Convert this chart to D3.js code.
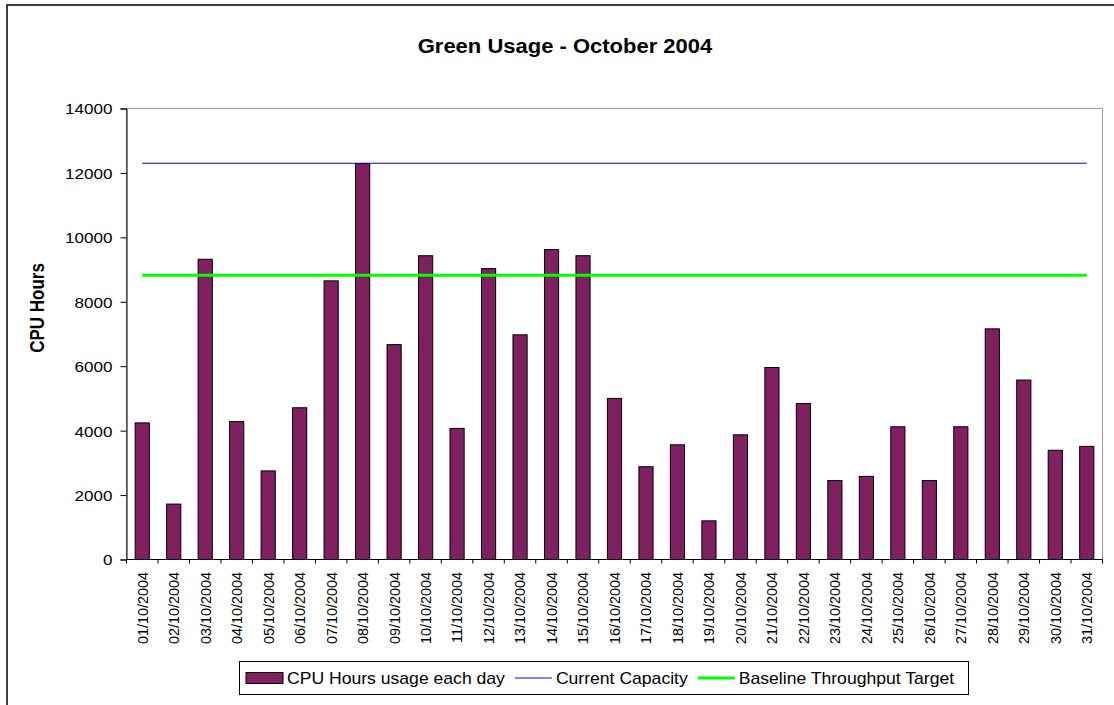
<!DOCTYPE html>
<html>
<head>
<meta charset="utf-8">
<script src="https://cdn.jsdelivr.net/npm/d3@7"></script>
<style>
  html, body { margin: 0; padding: 0; background: #fff; }
  svg { display: block; }
  text { font-family: "Liberation Sans", Arial, sans-serif; fill: #000; }
</style>
</head>
<body>
<svg id="chart" width="1114" height="705"></svg>
<script>
// ---- data ----
const dates = ["01/10/2004","02/10/2004","03/10/2004","04/10/2004","05/10/2004","06/10/2004","07/10/2004","08/10/2004","09/10/2004","10/10/2004","11/10/2004","12/10/2004","13/10/2004","14/10/2004","15/10/2004","16/10/2004","17/10/2004","18/10/2004","19/10/2004","20/10/2004","21/10/2004","22/10/2004","23/10/2004","24/10/2004","25/10/2004","26/10/2004","27/10/2004","28/10/2004","29/10/2004","30/10/2004","31/10/2004"];
const usage = [4240, 1720, 9320, 4280, 2750, 4710, 8650, 12290, 6670, 9430, 4070, 9030, 6975, 9620, 9430, 5000, 2880, 3560, 1200, 3870, 5960, 4840, 2450, 2580, 4120, 2450, 4120, 7160, 5570, 3390, 3510];
const capacity = 12300;
const baseline = 8820;
const yTicks = [0, 2000, 4000, 6000, 8000, 10000, 12000, 14000];
const title = "Green Usage - October 2004";
const yTitle = "CPU Hours";
const legendLabels = ["CPU Hours usage each day", "Current Capacity", "Baseline Throughput Target"];

(function () {
// ---- layout ----
const svg = d3.select("#chart");
const pLeft = 126.5, pRight = 1102.5, pTop = 108.5, pBottom = 559.5;
const barColor = "#802060";
const sx = 1.1; // horizontal text stretch

// outer frame (only left/top edges visible)
svg.append("rect").attr("x", 7).attr("y", 5).attr("width", 1130).attr("height", 720)
  .attr("fill", "#fff").attr("stroke", "#000").attr("stroke-width", 1.5);

const x = d3.scaleBand().domain(dates).range([pLeft, pRight]).paddingInner(0.55).paddingOuter(0.275);
const y = d3.scaleLinear().domain([0, 14000]).range([pBottom, pTop]);

// plot area frame (gray top/right)
svg.append("rect").attr("x", pLeft).attr("y", pTop).attr("width", pRight - pLeft).attr("height", pBottom - pTop)
  .attr("fill", "#fff").attr("stroke", "#999").attr("stroke-width", 1);

// title
svg.append("text").attr("transform", `translate(565,53) scale(${sx},1)`)
  .attr("text-anchor", "middle").style("font-size", "20px").style("font-weight", "bold").text(title);

// y axis title
svg.append("text").attr("transform", `translate(44,308) rotate(-90) scale(1,1.22)`)
  .attr("text-anchor", "middle").style("font-size", "17px").style("font-weight", "bold").text(yTitle);

// bars
svg.append("g").selectAll("rect").data(usage).join("rect")
  .attr("x", (d, i) => x(dates[i]))
  .attr("y", d => y(d))
  .attr("width", x.bandwidth())
  .attr("height", d => y(0) - y(d))
  .attr("fill", barColor).attr("stroke", "#000").attr("stroke-width", 1);

// reference lines
const xFirst = x(dates[0]) + x.bandwidth() / 2;
const xLast = x(dates[dates.length - 1]) + x.bandwidth() / 2;
svg.append("line").attr("x1", xFirst).attr("x2", xLast).attr("y1", y(capacity)).attr("y2", y(capacity))
  .attr("stroke", "#0000ff").attr("stroke-width", 1);
svg.append("line").attr("x1", xFirst).attr("x2", xLast).attr("y1", y(baseline)).attr("y2", y(baseline))
  .attr("stroke", "#00ff00").attr("stroke-width", 3);

// y axis
const yAxis = svg.append("g").attr("transform", `translate(${pLeft},0)`)
  .call(d3.axisLeft(y).tickValues(yTicks).tickSize(6).tickPadding(0).tickFormat(d3.format("d")));
yAxis.select(".domain").attr("stroke", "#000");
yAxis.selectAll(".tick line").attr("stroke", "#000");
yAxis.selectAll(".tick text").remove();
yAxis.selectAll(".tick").append("text")
  .attr("transform", `translate(-14,0) scale(${sx},1)`)
  .attr("text-anchor", "end").attr("dy", "0.35em")
  .style("font-size", "15.5px").text(d => d);

// x axis: ticks at category boundaries
const step = x.step();
const boundaries = dates.map(d => x(d) - step * x.paddingInner() / 2).concat([pRight]);
const xg = svg.append("g");
xg.append("line").attr("x1", pLeft).attr("x2", pRight).attr("y1", pBottom).attr("y2", pBottom).attr("stroke", "#000");
xg.selectAll("line.tk").data(boundaries).join("line").attr("class", "tk")
  .attr("x1", d => d).attr("x2", d => d).attr("y1", pBottom).attr("y2", pBottom + 4).attr("stroke", "#000");
xg.selectAll("text").data(dates).join("text")
  .attr("transform", d => `translate(${x(d) + x.bandwidth() / 2},572) scale(1.07,1) rotate(-90)`)
  .attr("text-anchor", "end").attr("dy", "0.35em")
  .style("font-size", "14.4px").text(d => d);

// legend
const lg = svg.append("g");
lg.append("rect").attr("x", 239.5).attr("y", 661.5).attr("width", 729).attr("height", 33)
  .attr("fill", "#fff").attr("stroke", "#000").attr("stroke-width", 1);
let cx = 246;
const ly = 678;
const items = [
  {label: legendLabels[0], type: "rect"},
  {label: legendLabels[1], type: "line", color: "#0000ff", w: 1},
  {label: legendLabels[2], type: "line", color: "#00ff00", w: 3}
];
items.forEach((it) => {
  if (it.type === "rect") {
    lg.append("rect").attr("x", cx).attr("y", ly - 5.5).attr("width", 37).attr("height", 11)
      .attr("fill", barColor).attr("stroke", "#000").attr("stroke-width", 1);
  } else {
    lg.append("line").attr("x1", cx).attr("x2", cx + 37).attr("y1", ly).attr("y2", ly)
      .attr("stroke", it.color).attr("stroke-width", it.w);
  }
  cx += 41;
  const t = lg.append("text").attr("transform", `translate(${cx},${ly}) scale(${sx},1)`)
    .attr("dy", "0.35em").style("font-size", "16px").text(it.label);
  cx += t.node().getComputedTextLength() * sx + 10;
});
})();
</script>
</body>
</html>
